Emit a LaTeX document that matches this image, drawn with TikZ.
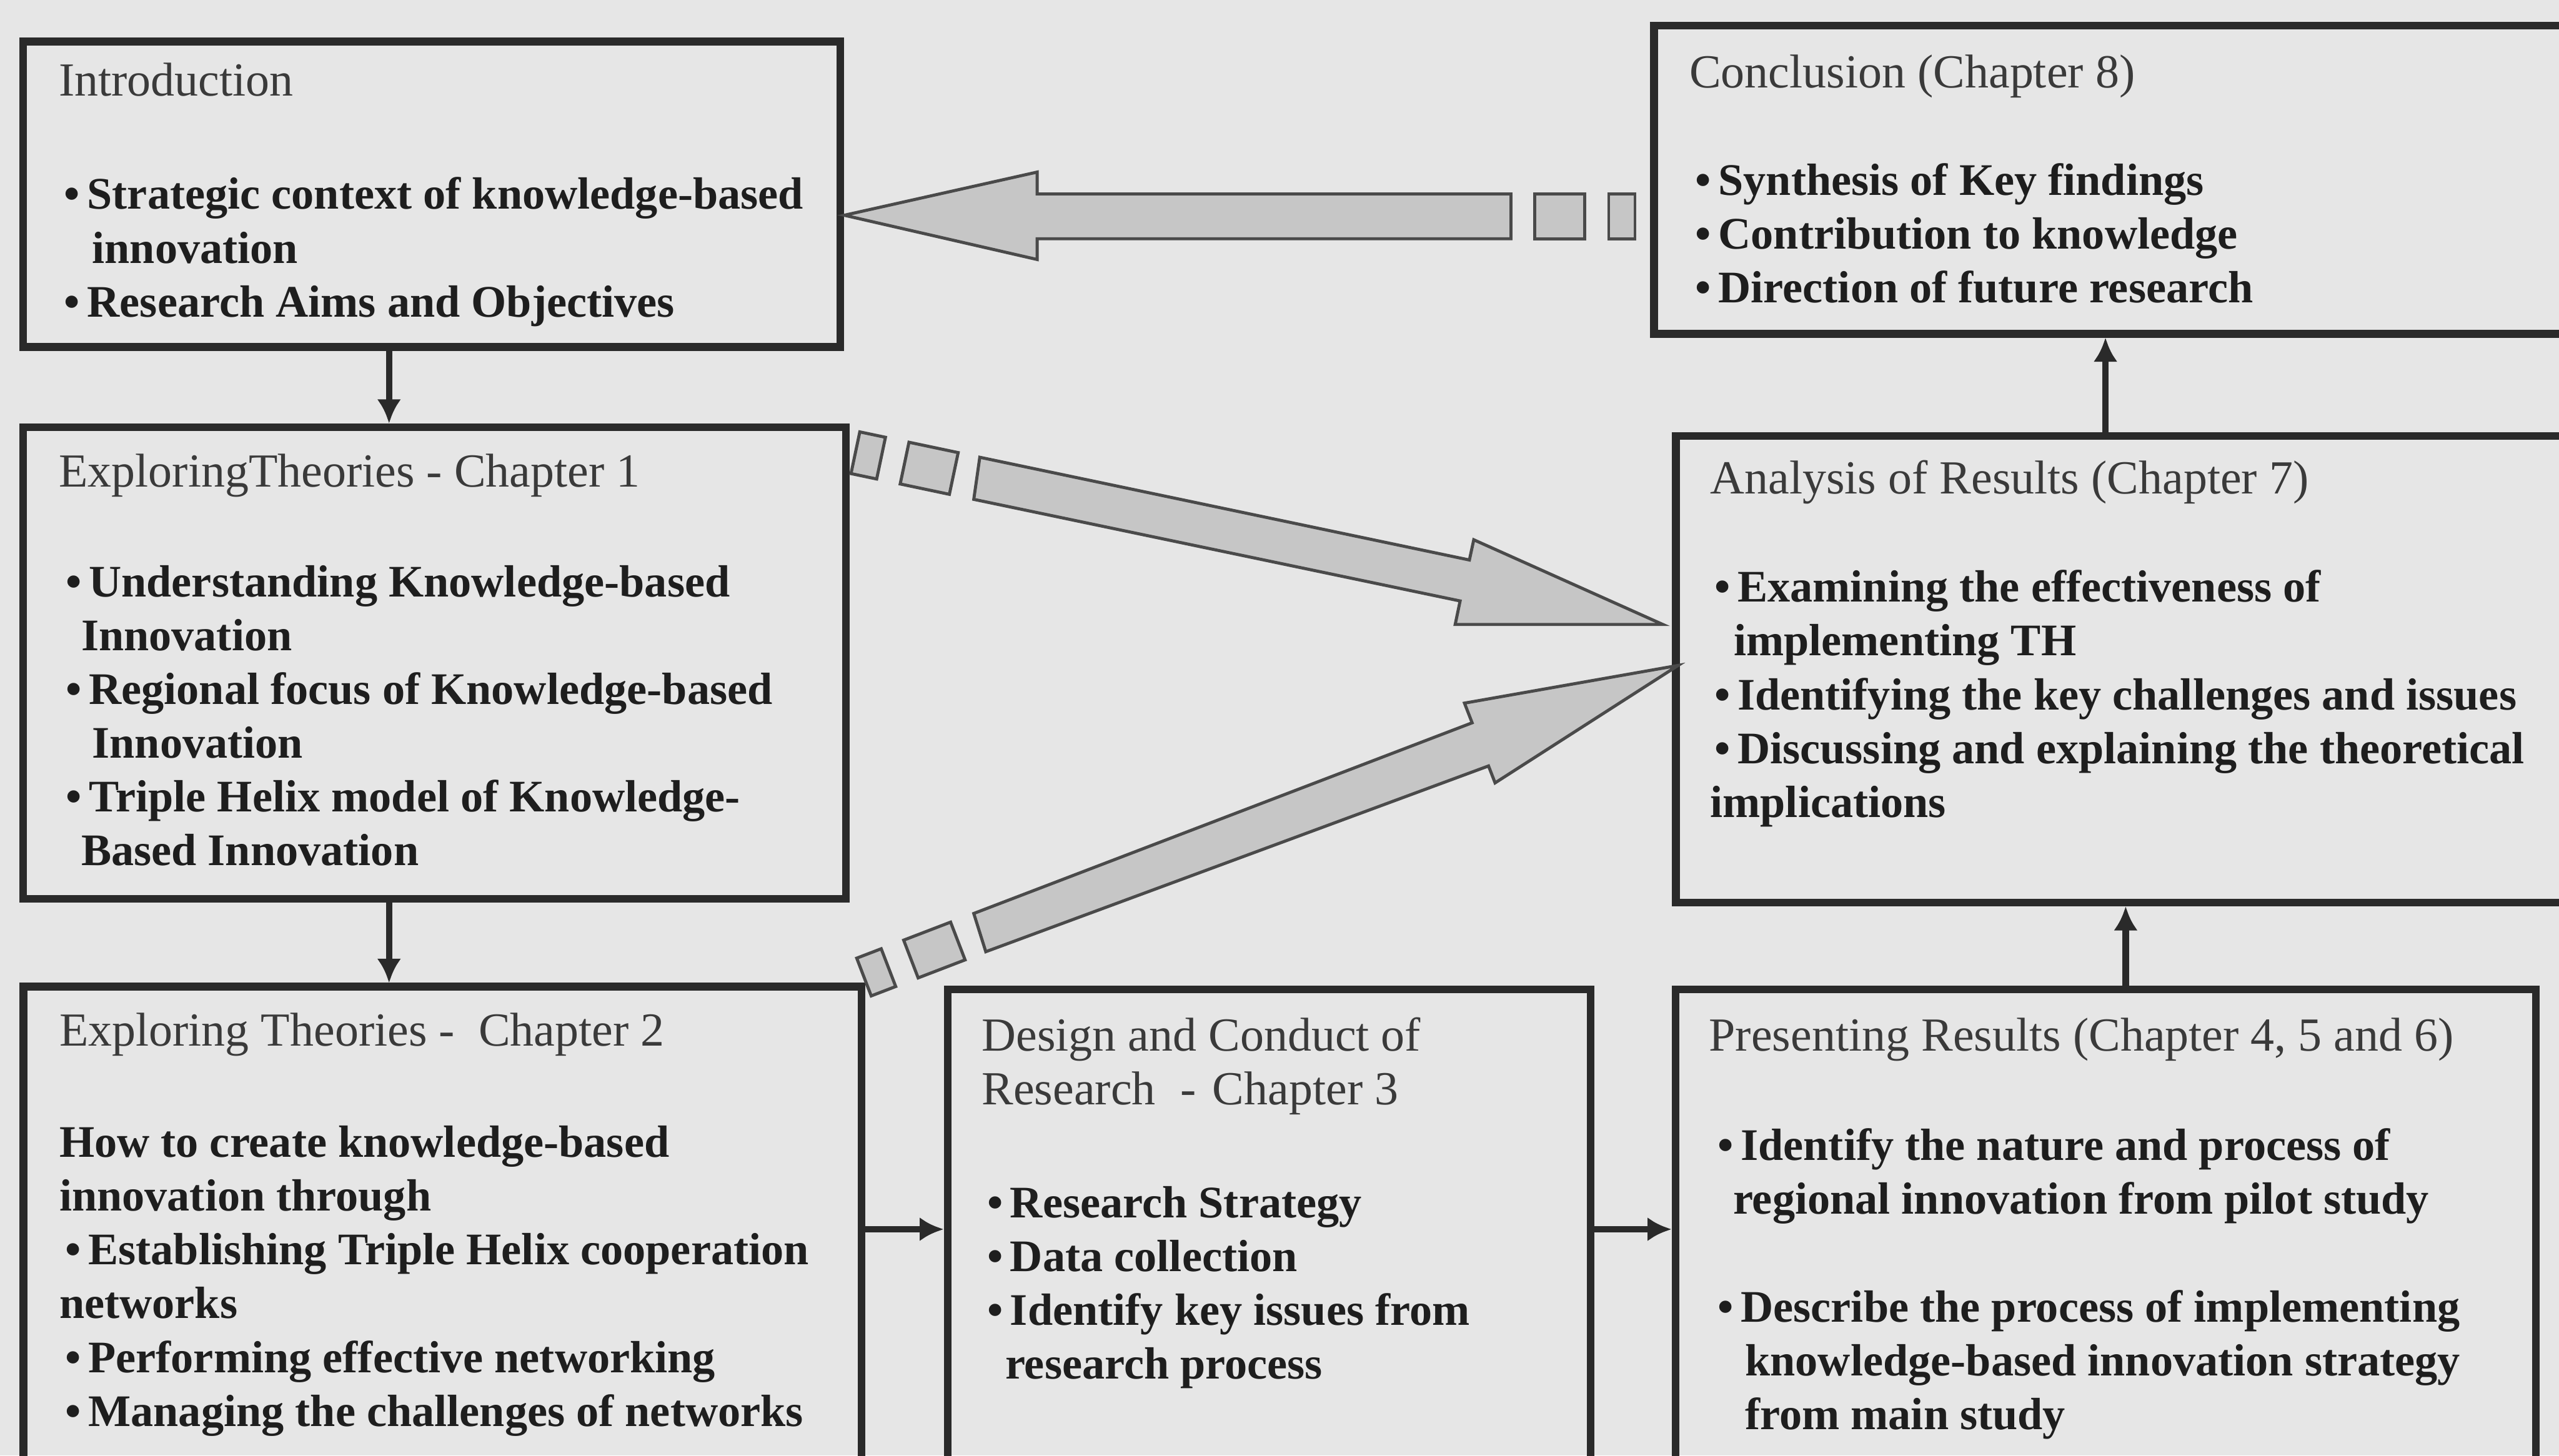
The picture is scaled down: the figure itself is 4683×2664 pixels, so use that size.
\documentclass[tikz,border=0pt]{standalone}
\usepackage{fontspec}
\setmainfont{Liberation Serif}
\usetikzlibrary{arrows.meta,calc,fit}

\definecolor{paper}{HTML}{E6E6E6}
\definecolor{ink}{HTML}{1E1E1E}
\definecolor{headink}{HTML}{3A3A3A}
\definecolor{frame}{HTML}{2A2A2A}
\definecolor{bandfill}{HTML}{C6C6C6}
\definecolor{bandline}{HTML}{4A4A4A}

% bullet with a fixed-width slot so the text after it lines up
\newcommand{\bul}{\makebox[0.42cm][l]{\textbullet}}
% stacked lines whose baseline is the first line
\newcommand{\lines}[1]{\begin{tabular}[t]{@{}l@{}}#1\end{tabular}}

\tikzset{
  chapterbox/.style={draw=frame, line width=4pt, rectangle, inner sep=0pt},
  headtext/.style={anchor=base west, inner sep=0pt, text=headink,
    font=\fontsize{24.7}{28}\selectfont},
  bodytext/.style={anchor=base west, inner sep=0pt, text=ink,
    font=\fontsize{23.5}{28}\selectfont\bfseries},
  link/.style={draw=frame, line width=3.4pt, -{Latex[length=0.44cm,width=0.44cm]}},
  band/.style={fill=bandfill, draw=bandline, line width=1.6pt, line join=miter},
}

% two shrinking dashes trailing behind a wide arrow whose tail centre is #1,
% the arrow pointing at angle #2, half shaft width #3
\newcommand{\banddashes}[3]{%
  \begin{scope}[shift={(#1)}, rotate=#2]
    \draw[band] (-43,#3) rectangle (-135,-#3);
    \draw[band] (-179,#3) rectangle (-227,-#3);
  \end{scope}}

\begin{document}
\begin{tikzpicture}[x=0.01cm, y=-0.01cm]
  \useasboundingbox (0,0) rectangle (4683,2664);
  \clip (0,0) rectangle (4683,2664);
  \fill[paper] (0,0) rectangle (4683,2664);

  % chapter frames
  \node[chapterbox, fit={(42,76) (1538,635)}] (intro) {};
  \node[chapterbox, fit={(42,782) (1548,1645)}] (ch1) {};
  \node[chapterbox, fit={(43,1806) (1577,2740)}] (ch2) {};
  \node[chapterbox, fit={(1734,1811) (2911,2740)}] (ch3) {};
  \node[chapterbox, fit={(3066,1811) (4641,2740)}] (pres) {};
  \node[chapterbox, fit={(3067,798) (4740,1652)}] (analysis) {};
  \node[chapterbox, fit={(3027,47) (4740,611)}] (conclusion) {};

  % texts
  \node[headtext] (introhead) at (107,176) {Introduction};
  \node[bodytext] (introbody) at (117,383) {\lines{\bul Strategic context of knowledge-based\\
    \hspace{0.51cm}innovation\\
    \bul Research Aims and Objectives}};

  \node[headtext] (ch1head) at (107,891) {ExploringTheories - Chapter 1};
  \node[bodytext] (ch1body) at (120,1092) {\lines{\bul Understanding Knowledge-based\\
    \hspace{0.28cm}Innovation\\
    \bul Regional focus of Knowledge-based\\
    \hspace{0.48cm}Innovation\\
    \bul Triple Helix model of Knowledge-\\
    \hspace{0.28cm}Based Innovation}};

  \node[headtext] (ch2head) at (108,1915) {Exploring Theories -\ \ Chapter 2};
  \node[bodytext] (ch2body) at (108,2118) {\lines{How to create knowledge-based\\
    innovation through\\
    \hspace{0.11cm}\bul Establishing Triple Helix cooperation\\
    networks\\
    \hspace{0.11cm}\bul Performing effective networking\\
    \hspace{0.11cm}\bul Managing the challenges of networks}};

  \node[headtext] (ch3head) at (1796,1924) {\lines{Design and Conduct of\\
    Research\hspace{0.45cm}-\hspace{0.3cm}Chapter 3}};
  \node[bodytext] (ch3body) at (1806,2229) {\lines{\bul Research Strategy\\
    \bul Data collection\\
    \bul Identify key issues from\\
    \hspace{0.33cm}research process}};

  \node[headtext] (preshead) at (3127,1924) {Presenting Results (Chapter 4, 5 and 6)};
  \node[bodytext] (presbody) at (3143,2124) {\lines{\bul Identify the nature and process of\\
    \hspace{0.28cm}regional innovation from pilot study\\
    \\
    \bul Describe the process of implementing\\
    \hspace{0.5cm}knowledge-based innovation strategy\\
    \hspace{0.5cm}from main study}};

  \node[headtext] (anahead) at (3129,904) {Analysis of Results (Chapter 7)};
  \node[bodytext] (anabody) at (3137,1102) {\lines{\bul Examining the effectiveness of\\
    \hspace{0.35cm}implementing TH\\
    \bul Identifying the key challenges and issues\\
    \bul Discussing and explaining the theoretical\\
    \hspace{-0.08cm}implications}};

  \node[headtext] (conchead) at (3091,161) {Conclusion (Chapter 8)};
  \node[bodytext] (concbody) at (3102,357) {\lines{\bul Synthesis of Key findings\\
    \bul Contribution to knowledge\\
    \bul Direction of future research}};

  % thin flow connectors
  \coordinate (leftrail) at (712,0);
  \coordinate (uprail) at (3853,0);
  \coordinate (presrail) at (3890,0);
  \coordinate (lowrow) at (0,2250);
  \draw[link] (intro.south -| leftrail) -- (ch1.north -| leftrail);
  \draw[link] (ch1.south -| leftrail) -- (ch2.north -| leftrail);
  \draw[link] (ch2.east |- lowrow) -- (ch3.west |- lowrow);
  \draw[link] (ch3.east |- lowrow) -- (pres.west |- lowrow);
  \draw[link] (pres.north -| presrail) -- (analysis.south -| presrail);
  \draw[link] (analysis.north -| uprail) -- (conclusion.south -| uprail);

  % wide arrow from the conclusion back to the introduction
  \coordinate (tipintro) at (intro.east |- 0,394);
  \begin{scope}[shift={(tipintro)}]
    \draw[band] (0,0) -- (353,-79) -- (353,-39) -- (1220,-39) -- (1220,43)
      -- (353,43) -- (353,81) -- cycle;
  \end{scope}
  \coordinate (tailintro) at ($(tipintro)+(1220,2)$);
  \banddashes{tailintro}{180}{41}

  % wide arrow from chapter 1 to the analysis (head with a level lower edge)
  \coordinate (tipupper) at ($(analysis.west |- 0,1143)+(-17,0)$);
  \draw[band] (1793,837) -- (2689,1025) -- (2697,988) -- (tipupper)
    -- (2663,1143) -- (2672,1100) -- (1782,914) -- cycle;
  \coordinate (tailupper) at (1787.5,875.5);
  \banddashes{tailupper}{-11.9}{39}

  % wide arrow from chapter 2 to the analysis
  \coordinate (tiplower) at ($(analysis.west |- 0,1218)+(11,0)$);
  \draw[band] (1782,1672) -- (2694,1323) -- (2680,1287) -- (tiplower)
    -- (2736,1433) -- (2724,1402) -- (1804,1742) -- cycle;
  \coordinate (taillower) at (1793,1707);
  \banddashes{taillower}{21}{37}
\end{tikzpicture}
\end{document}
